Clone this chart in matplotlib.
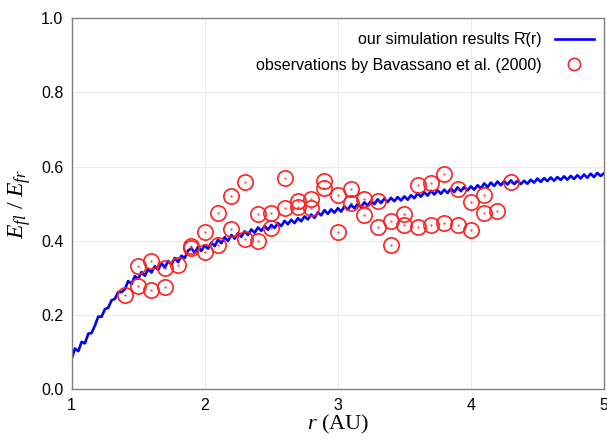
import matplotlib
matplotlib.use('Agg')
import matplotlib.pyplot as plt

# simulation curve R(r)
r_sim = [
    1.000, 1.025, 1.050, 1.075, 1.100, 1.125, 1.150, 1.175, 1.200, 1.225, 1.250, 1.275,
    1.300, 1.325, 1.350, 1.375, 1.400, 1.425, 1.450, 1.475, 1.500, 1.525, 1.550, 1.575,
    1.600, 1.625, 1.650, 1.675, 1.700, 1.725, 1.750, 1.775, 1.800, 1.825, 1.850, 1.875,
    1.900, 1.925, 1.950, 1.975, 2.000, 2.025, 2.050, 2.075, 2.100, 2.125, 2.150, 2.175,
    2.200, 2.225, 2.250, 2.275, 2.300, 2.325, 2.350, 2.375, 2.400, 2.425, 2.450, 2.475,
    2.500, 2.525, 2.550, 2.575, 2.600, 2.625, 2.650, 2.675, 2.700, 2.725, 2.750, 2.775,
    2.800, 2.825, 2.850, 2.875, 2.900, 2.925, 2.950, 2.975, 3.000, 3.025, 3.050, 3.075,
    3.100, 3.125, 3.150, 3.175, 3.200, 3.225, 3.250, 3.275, 3.300, 3.325, 3.350, 3.375,
    3.400, 3.425, 3.450, 3.475, 3.500, 3.525, 3.550, 3.575, 3.600, 3.625, 3.650, 3.675,
    3.700, 3.725, 3.750, 3.775, 3.800, 3.825, 3.850, 3.875, 3.900, 3.925, 3.950, 3.975,
    4.000, 4.025, 4.050, 4.075, 4.100, 4.125, 4.150, 4.175, 4.200, 4.225, 4.250, 4.275,
    4.300, 4.325, 4.350, 4.375, 4.400, 4.425, 4.450, 4.475, 4.500, 4.525, 4.550, 4.575,
    4.600, 4.625, 4.650, 4.675, 4.700, 4.725, 4.750, 4.775, 4.800, 4.825, 4.850, 4.875,
    4.900, 4.925, 4.950, 4.975, 5.000,
]
R_sim = [
    0.082, 0.110, 0.103, 0.128, 0.124, 0.150, 0.152, 0.172, 0.196, 0.196, 0.216, 0.220,
    0.240, 0.244, 0.262, 0.262, 0.270, 0.292, 0.284, 0.305, 0.298, 0.316, 0.306, 0.324,
    0.315, 0.332, 0.322, 0.340, 0.328, 0.346, 0.336, 0.354, 0.343, 0.360, 0.354, 0.374,
    0.380, 0.368, 0.384, 0.373, 0.388, 0.379, 0.395, 0.386, 0.403, 0.394, 0.410, 0.400,
    0.416, 0.406, 0.421, 0.411, 0.426, 0.416, 0.431, 0.422, 0.436, 0.427, 0.440, 0.430,
    0.443, 0.435, 0.448, 0.440, 0.454, 0.445, 0.457, 0.448, 0.461, 0.453, 0.466, 0.458,
    0.471, 0.462, 0.477, 0.469, 0.483, 0.473, 0.485, 0.476, 0.488, 0.479, 0.493, 0.484,
    0.497, 0.488, 0.500, 0.491, 0.504, 0.495, 0.508, 0.499, 0.512, 0.502, 0.514, 0.505,
    0.516, 0.507, 0.518, 0.509, 0.520, 0.511, 0.523, 0.515, 0.528, 0.519, 0.531, 0.522,
    0.535, 0.525, 0.536, 0.527, 0.538, 0.529, 0.541, 0.532, 0.544, 0.534, 0.545, 0.536,
    0.547, 0.538, 0.550, 0.541, 0.555, 0.545, 0.557, 0.548, 0.560, 0.550, 0.561, 0.552,
    0.563, 0.553, 0.562, 0.553, 0.562, 0.554, 0.565, 0.557, 0.568, 0.559, 0.569, 0.561,
    0.571, 0.562, 0.572, 0.564, 0.574, 0.565, 0.575, 0.567, 0.577, 0.568, 0.579, 0.570,
    0.581, 0.572, 0.583, 0.575, 0.582,
]

# observations (Bavassano et al. 2000)
r_obs = [1.4, 1.5, 1.5, 1.6, 1.6, 1.7, 1.7, 1.8, 1.9, 1.9, 2.0, 2.0, 2.1, 2.1,
         2.2, 2.2, 2.3, 2.3, 2.4, 2.4, 2.5, 2.5, 2.6, 2.6, 2.7, 2.7, 2.8, 2.8,
         2.9, 2.9, 3.0, 3.0, 3.1, 3.1, 3.2, 3.2, 3.3, 3.3, 3.4, 3.4, 3.5, 3.5,
         3.6, 3.6, 3.7, 3.7, 3.8, 3.8, 3.9, 3.9, 4.0, 4.0, 4.1, 4.1, 4.2, 4.3]
R_obs = [0.254, 0.333, 0.279, 0.346, 0.268, 0.328, 0.275, 0.334, 0.380, 0.386,
         0.370, 0.425, 0.388, 0.475, 0.520, 0.431, 0.560, 0.405, 0.472, 0.400,
         0.476, 0.436, 0.570, 0.489, 0.508, 0.491, 0.512, 0.489, 0.561, 0.543,
         0.524, 0.425, 0.540, 0.503, 0.512, 0.470, 0.508, 0.438, 0.454, 0.389,
         0.472, 0.443, 0.551, 0.438, 0.555, 0.443, 0.580, 0.449, 0.539, 0.443,
         0.506, 0.429, 0.524, 0.474, 0.480, 0.560]

plt.rcParams['font.family'] = ['Liberation Sans', 'DejaVu Sans']
plt.rcParams['mathtext.fontset'] = 'custom'
plt.rcParams['mathtext.rm'] = 'Liberation Serif'
plt.rcParams['mathtext.it'] = 'Liberation Serif:italic'

fig = plt.figure(figsize=(6.07, 4.43), dpi=100)
ax = fig.add_axes([0.118, 0.121, 0.877, 0.838])

ax.plot(r_sim, R_sim, '-', color='#0000ff', lw=1.9, label='our simulation results R\u0304(r)')
ax.plot(r_obs, R_obs, 'o', ms=11, mfc='none', mec='#ff2020', mew=1.2,
        label='observations by Bavassano et al. (2000)')
ax.plot(r_obs, R_obs, '.', ms=1, color='#ff2020')

ax.set_xlim(1, 5)
ax.set_ylim(0, 1)
ax.set_xticks([1, 2, 3, 4, 5])
ax.set_yticks([0.0, 0.2, 0.4, 0.6, 0.8, 1.0])
ax.set_yticklabels(['0.0', '0.2', '0.4', '0.6', '0.8', '1.0'])
ax.tick_params(length=0, labelsize=11.5, pad=6)
ax.grid(True, color='#ececec', lw=0.8)
for s in ax.spines.values():
    s.set_color('#808080')
    s.set_linewidth(1.0)

ax.set_xlabel('$r$ (AU)', fontsize=16, family='Liberation Serif', labelpad=0)
ax.set_ylabel(r'$E_{fl}\ /\ E_{fr}$', fontsize=17, labelpad=6)

ax.legend(loc='upper right', bbox_to_anchor=(1.0, 0.99), frameon=False,
          markerfirst=False, fontsize=11.5, handlelength=2.4, handletextpad=0.85,
          borderaxespad=0.25, labelspacing=0.65, markerscale=0.8)

plt.savefig('out.png')
plt.close()
